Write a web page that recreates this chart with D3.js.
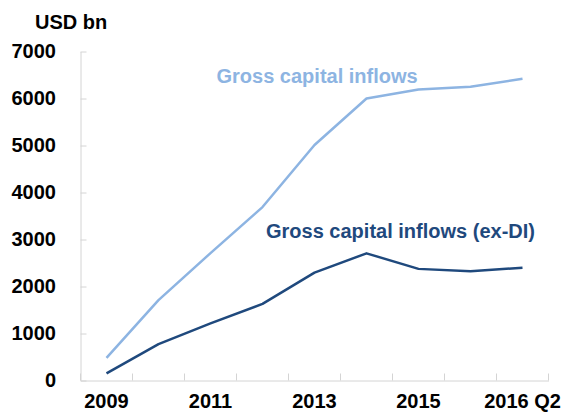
<!DOCTYPE html>
<html>
<head>
<meta charset="utf-8">
<script src="https://cdn.jsdelivr.net/npm/d3@7"></script>
<style>
  html, body { margin: 0; padding: 0; background: #fff; }
  svg { display: block; }
  text { font-family: "Liberation Sans", Arial, Helvetica, sans-serif; font-weight: bold; }
</style>
</head>
<body>
<svg id="chart" width="562" height="412"></svg>
<script>
// Periods on the x axis
const periods = ["2009", "2010", "2011", "2012", "2013", "2014", "2015", "2016 Q1", "2016 Q2"];
// Periods that carry a tick label
const labelledPeriods = ["2009", "2011", "2013", "2015", "2016 Q2"];
// Gross capital inflows, USD bn
const grossInflows = [480, 1710, 2710, 3690, 5010, 6000, 6190, 6250, 6420];
// Gross capital inflows excluding direct investment, USD bn
const grossInflowsExDI = [150, 775, 1215, 1630, 2295, 2705, 2375, 2325, 2400];
// Y axis ticks
const yTicks = [0, 1000, 2000, 3000, 4000, 5000, 6000, 7000];

const seriesNames = ["Gross capital inflows", "Gross capital inflows (ex-DI)"];
const seriesColors = ["#8db4e2", "#1f497d"];

const svg = d3.select("#chart");
const plot = { left: 80.5, right: 548.5, top: 51.5, bottom: 380.5 };
const axisColor = "#d4d4d4";

const x = d3.scaleBand().domain(periods).range([plot.left, plot.right]).padding(0);
const y = d3.scaleLinear().domain([0, 7000]).range([plot.bottom, plot.top]);

// Y axis: ticks point into the plot area
const yAxis = svg.append("g")
  .attr("transform", `translate(${plot.left},0)`)
  .call(d3.axisLeft(y).tickValues(yTicks).tickFormat(d3.format("d"))
    .tickSizeInner(-6).tickSizeOuter(0).tickPadding(24.5));
yAxis.select(".domain").attr("stroke", axisColor);
yAxis.selectAll(".tick line").attr("stroke", axisColor);
yAxis.selectAll(".tick text")
  .attr("font-size", 20).attr("fill", "#000")
  .attr("font-family", "Liberation Sans, Arial, sans-serif").attr("font-weight", "bold");

// X axis: labels under every other period
const xAxis = svg.append("g")
  .attr("transform", `translate(0,${plot.bottom})`)
  .call(d3.axisBottom(x).tickValues(labelledPeriods).tickSize(0).tickPadding(13));
xAxis.select(".domain").attr("stroke", axisColor);
xAxis.selectAll(".tick text")
  .attr("font-size", 20).attr("fill", "#000")
  .attr("font-family", "Liberation Sans, Arial, sans-serif").attr("font-weight", "bold");

// Category separators on the x axis, pointing up into the plot
const edges = periods.map(p => x(p)).concat([x.range()[1]]);
svg.append("g").selectAll("line")
  .data(edges)
  .join("line")
  .attr("x1", d => Math.round(d - 0.5) + 0.5)
  .attr("x2", d => Math.round(d - 0.5) + 0.5)
  .attr("y1", plot.bottom - 7)
  .attr("y2", plot.bottom)
  .attr("stroke", axisColor);

// Lines
const line = d3.line()
  .x((d, i) => x(periods[i]) + x.bandwidth() / 2)
  .y(d => y(d));

[grossInflows, grossInflowsExDI].forEach((vals, k) => {
  svg.append("path")
    .datum(vals)
    .attr("d", line)
    .attr("fill", "none")
    .attr("stroke", seriesColors[k])
    .attr("stroke-width", 2.5)
    .attr("stroke-linejoin", "round");
});

// Unit title
svg.append("text")
  .attr("x", 35).attr("y", 28.5)
  .attr("font-size", 20).attr("fill", "#000")
  .text("USD bn");

// Series labels
svg.append("text")
  .attr("x", 216.5).attr("y", 82.5)
  .attr("font-size", 20).attr("fill", seriesColors[0])
  .text(seriesNames[0]);
svg.append("text")
  .attr("x", 266).attr("y", 238)
  .attr("font-size", 20).attr("fill", seriesColors[1])
  .text(seriesNames[1]);
</script>
</body>
</html>
